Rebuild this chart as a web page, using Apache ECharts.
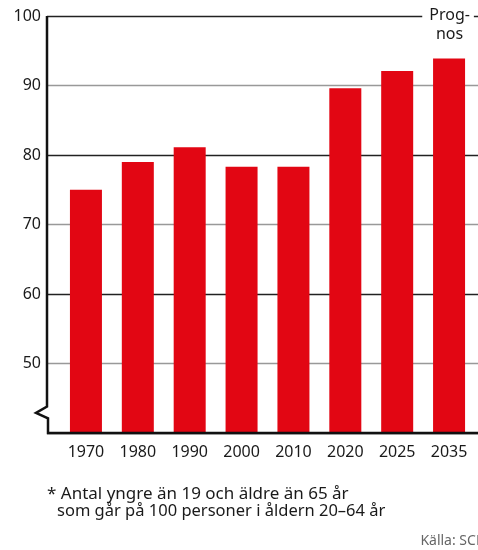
<!DOCTYPE html>
<html>
<head>
<meta charset="utf-8">
<script src="https://cdn.jsdelivr.net/npm/echarts@6/dist/echarts.min.js"></script>
<style>
html,body{margin:0;padding:0;background:#fff;}
#c{width:478px;height:550px;}
</style>
</head>
<body>
<div id="c"></div>
<script>
var years = ['1970','1980','1990','2000','2010','2020','2025','2035'];
var values = [75, 79, 81.1, 78.3, 78.3, 89.6, 92.1, 93.9];
var yTicks = [40, 50, 60, 70, 80, 90, 100];
var noteLine1 = '* Antal yngre än 19 och äldre än 65 år';
var noteLine2 = 'som går på 100 personer i åldern 20–64 år';
var sourceText = 'Källa: SCB';
var prognosText = 'Prog-\nnos';

var FONT = 'Noto Sans';
var chart = echarts.init(document.getElementById('c'), null, {renderer:'canvas'});
var yMin = yTicks[0], yMax = yTicks[yTicks.length-1];

chart.setOption({
  animation: false,
  grid: [
    {left: 47, right: 0, top: 16, bottom: 117},
    {left: 60, right: 3, top: 16, bottom: 117}
  ],
  xAxis: [
    {gridIndex: 0, type: 'value', min: 0, max: 1, show: false},
    {gridIndex: 1, type: 'category', data: years,
     axisLine: {show: false}, axisTick: {show: false},
     axisLabel: {color: '#1a1a1a', fontSize: 16, fontFamily: FONT, margin: 11}}
  ],
  yAxis: [
    {gridIndex: 0, type: 'value', min: yMin, max: yMax, interval: 10,
     axisLine: {show: false}, axisTick: {show: false},
     axisLabel: {color: '#1a1a1a', fontSize: 16, fontFamily: FONT, margin: 6,
       formatter: function(v){ return v === yMin ? '' : String(v); }},
     splitLine: {show: true, lineStyle: {color: ['#222', '#999'], width: 1.4}}},
    {gridIndex: 1, type: 'value', min: yMin, max: yMax, show: false}
  ],
  series: [{
    type: 'bar', xAxisIndex: 1, yAxisIndex: 1,
    data: values, barWidth: 32,
    itemStyle: {color: '#e20613'},
    markPoint: {
      symbol: 'rect', symbolSize: 0,
      data: [{coord: [years[years.length-1], yMax]}],
      label: {show: true, formatter: prognosText, position: 'inside',
        offset: [-1, 9], color: '#1a1a1a', fontSize: 16, fontFamily: FONT,
        lineHeight: 19, backgroundColor: '#fff', padding: [0, 4, 0, 7], align: 'center'}
    }
  }]
});

// Axis lines with a break, positioned from the library's scale
var pTop = chart.convertToPixel({xAxisIndex:0, yAxisIndex:0}, [0, yMax]);
var pBot = chart.convertToPixel({xAxisIndex:0, yAxisIndex:0}, [0, yMin]);
var pRight = chart.convertToPixel({xAxisIndex:0, yAxisIndex:0}, [1, yMin]);
var bHi = chart.convertToPixel({xAxisIndex:0, yAxisIndex:0}, [0, 43.8])[1];
var bMid = chart.convertToPixel({xAxisIndex:0, yAxisIndex:0}, [0, 42.9])[1];
var bLo = chart.convertToPixel({xAxisIndex:0, yAxisIndex:0}, [0, 42.1])[1];
var x0 = pTop[0];
chart.setOption({
  graphic: [
    {type: 'polyline', z: 100,
     shape: {points: [[x0, pTop[1]], [x0, bHi], [x0-11, bMid], [x0+1, bLo], [x0+1, pBot[1]], [pRight[0], pBot[1]]]},
     style: {stroke: '#111', lineWidth: 2.5, fill: null, lineJoin: 'miter'}},
    {type: 'text', left: 47, top: 486,
     style: {text: noteLine1, fill: '#1a1a1a', font: '17px "Noto Sans"'}},
    {type: 'text', left: 57, top: 503,
     style: {text: noteLine2, fill: '#1a1a1a', font: '16.5px "Noto Sans"'}},
    {type: 'text', right: -7, top: 534,
     style: {text: sourceText, fill: '#666', font: '14px "Noto Sans"'}}
  ]
});
</script>
</body>
</html>
